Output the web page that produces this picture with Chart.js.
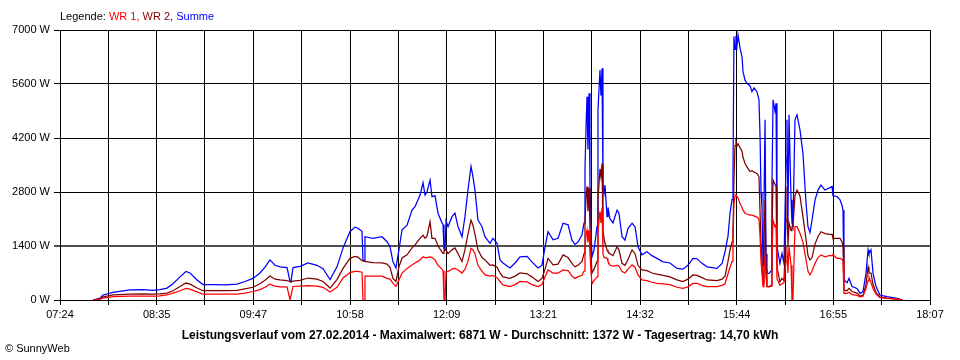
<!DOCTYPE html>
<html>
<head>
<meta charset="utf-8">
<script src="https://cdn.jsdelivr.net/npm/chart.js@4/dist/chart.umd.min.js"></script>
<style>
  html, body { margin: 0; padding: 0; background: #fff; }
  #wrap { position: relative; width: 960px; height: 360px; font-family: "Liberation Sans", Arial, sans-serif; font-size: 11px; }
  #c { position: absolute; left: 0; top: 0; }
  #legend { position: absolute; left: 60px; top: 10px; line-height: 13px; white-space: nowrap; color: #000; }
  #copy { position: absolute; left: 5px; top: 342px; line-height: 13px; white-space: nowrap; color: #000; }
</style>
</head>
<body>
<div id="wrap">
  <canvas id="c" width="960" height="360"></canvas>
  <div id="legend">Legende: <span style="color:#ff0000">WR 1,</span> <span style="color:#800000">WR 2,</span> <span style="color:#0000ff">Summe</span></div>
  <div id="copy">© SunnyWeb</div>
</div>
<script>
// time of day in minutes since midnight
const minutes = [
468.4,473.6,475.8,483.2,495.7,505.3,512.7,517.9,523.1,527.5,532.7,537.1,540.1,545.3,549.7,557.1,566.0,574.8,580.7,586.6,
591.8,595.5,599.2,602.9,606.6,611.8,614.0,614.7,616.2,621.4,627.3,633.9,638.4,643.6,648.7,653.2,658.3,662.0,664.2,667.2,
667.9,668.7,669.4,675.3,682.0,685.7,687.9,690.1,692.3,694.5,696.8,700.5,704.2,706.4,710.1,712.3,713.8,715.2,717.5,718.9,
721.2,723.4,726.3,727.1,727.8,728.6,729.3,730.8,733.7,735.9,738.2,741.1,743.3,745.5,747.8,749.2,750.7,752.9,755.9,758.1,
761.8,764.0,767.0,769.2,771.4,776.6,780.3,784.0,789.2,792.8,797.3,800.2,802.5,804.7,808.4,812.1,815.8,819.5,822.4,824.6,
826.8,829.8,831.3,832.0,832.8,833.5,834.2,835.0,835.7,836.5,837.2,838.7,840.9,841.6,843.1,843.8,844.6,845.3,846.1,846.8,
848.3,849.0,850.5,852.7,855.7,857.1,859.4,861.6,863.8,866.8,869.0,871.2,874.1,877.8,881.5,885.2,889.7,894.8,900.0,904.4,
908.1,911.8,914.8,918.5,922.2,929.6,933.3,935.5,937.7,939.2,940.7,941.4,942.1,942.9,943.6,944.4,945.1,946.6,948.1,948.8,
950.3,951.7,954.0,955.4,956.9,959.1,960.6,961.4,962.1,962.8,963.6,964.3,965.1,965.8,966.5,968.0,969.5,970.2,971.0,972.4,
973.2,973.9,976.1,977.6,979.1,980.6,981.3,982.0,982.8,984.3,985.0,985.7,987.2,988.7,990.9,993.1,995.4,996.8,998.3,999.8,
1002.0,1004.2,1006.4,1009.4,1012.4,1014.6,1015.3,1018.3,1020.5,1022.0,1022.7,1023.4,1025.7,1027.1,1029.4,1033.0,1035.3,1037.5,1039.7,1041.2,
1041.9,1043.4,1044.9,1047.1,1050.0,1055.2,1062.6,1067.0
];
const wr1 = [
0,20,50,90,100,100,100,110,130,180,240,300,280,210,150,150,150,150,180,220,
270,330,410,360,340,340,0,0,350,360,370,360,330,210,330,570,710,740,740,720,
0,0,620,620,620,560,540,430,350,520,700,820,910,960,1040,1120,1100,1100,1120,1100,
1040,900,800,760,0,0,730,740,800,820,780,700,800,1000,1340,1300,1200,900,750,650,
620,640,580,480,390,350,400,480,470,400,350,400,600,780,700,700,780,760,620,560,
600,640,750,1300,1700,1810,1500,1800,1200,700,420,500,600,1800,2300,2000,2400,1200,1100,1100,
1080,1000,900,880,900,880,740,700,800,910,850,650,520,500,460,430,420,400,330,300,
340,430,430,380,350,350,380,420,680,850,1000,1500,2500,2700,2720,2680,2650,2500,2400,2330,
2250,2230,2200,2200,2180,2150,2100,1640,1000,700,350,700,1200,600,350,340,360,1200,2070,1900,
1950,550,380,420,450,1000,1380,700,1380,900,0,0,1900,1900,1730,1500,1040,750,650,750,
950,1100,1170,1120,1150,1150,1170,1080,1080,1050,1000,170,170,200,140,120,80,100,300,500,
600,450,300,150,60,40,20,0
];
const wr2 = [
0,30,80,130,150,160,150,160,180,240,350,440,410,310,240,240,240,250,290,330,
420,510,620,540,520,500,480,470,490,510,570,540,480,310,530,820,1080,1130,1110,1020,
1020,1000,1000,970,960,930,850,560,480,860,1090,1170,1350,1430,1600,1680,1600,1650,2030,1600,
1600,1400,1250,1210,1250,1300,1300,1200,1300,1350,1200,1000,1300,1700,2070,1940,1700,1300,1100,1040,
900,910,850,700,600,560,620,700,680,600,480,560,800,1080,910,930,1170,1100,950,860,
900,1000,1200,2000,2700,2940,2300,2900,1800,1100,700,800,1000,2600,3400,3200,3540,1800,1600,1470,
1300,1250,1200,1150,1380,1300,950,900,1050,1300,1200,900,780,760,700,670,640,600,520,480,
540,650,640,580,520,500,540,620,1000,1300,1500,1800,3110,4000,4100,4000,4050,3950,3850,3700,
3540,3450,3330,3350,3320,3280,3200,2250,1500,1500,430,1700,2600,800,350,350,380,1800,3110,3000,
2940,850,470,560,500,2070,2940,1400,2000,1800,1900,1900,2700,2850,2700,2160,1560,1150,1040,1100,
1450,1640,1770,1720,1700,1700,1600,1600,1600,1500,1400,260,240,300,220,180,100,120,400,860,
700,700,400,200,80,50,25,0
];
const summe = [
0,50,130,200,260,270,250,270,310,420,600,740,700,520,400,400,390,410,480,560,
700,850,1040,900,860,840,480,470,840,870,960,900,810,530,860,1350,1770,1890,1860,1780,
1040,1020,1640,1600,1640,1510,1380,990,830,1300,1820,1940,2330,2420,2720,3040,2720,2800,3110,2680,
2700,2250,2000,1950,1300,1300,2050,1900,2160,2250,1900,1640,2160,2850,3460,3200,2850,2070,1900,1640,
1470,1600,1470,1040,960,830,960,1120,1130,990,830,900,1380,1770,1560,1600,1990,1950,1550,1440,
1500,1690,2000,3370,4500,5270,3900,5360,3000,1800,1120,1300,1900,4930,5960,5300,6010,3000,2770,2980,
2160,2400,2100,2000,2330,2250,1640,1550,1850,1990,1900,1380,1170,1250,1150,1080,990,960,820,800,
900,1080,1070,950,860,820,950,1250,1650,2250,2600,3240,6830,6500,6850,6600,6871,6530,6300,5920,
5700,5620,5550,5400,5500,5400,5190,4230,2800,2420,900,2500,4670,1200,700,690,750,3000,5190,4900,
5100,1400,950,1210,950,3630,4670,2000,4800,2600,2000,1900,4670,4800,4410,3800,2500,1900,1750,2070,
2590,2850,2980,2850,2900,2940,2700,2680,2600,2450,2330,520,450,560,350,300,170,220,690,1300,
1200,1300,690,350,130,90,45,0
];
const xTickLabels = ["07:24","08:35","09:47","10:58","12:09","13:21","14:32","15:44","16:55","18:07"];
const yTickValues = [0,1400,2800,4200,5600,7000];
const yTickLabels = ["0 W","1400 W","2800 W","4200 W","5600 W","7000 W"];
const xStart = 444;   // 07:24
const xEnd = 1087;    // 18:07
const titleText = "Leistungsverlauf vom 27.02.2014 - Maximalwert: 6871 W - Durchschnitt: 1372 W - Tagesertrag: 14,70 kWh";

const toPts = arr => arr.map((v, i) => ({x: minutes[i], y: v}));
const gridCount = (xTickLabels.length - 1) * 2;
const xGrid = [];
for (let i = 0; i <= gridCount; i++) xGrid.push(xStart + (xEnd - xStart) * i / gridCount);

Chart.defaults.font.family = '"Liberation Sans", Arial, sans-serif';
Chart.defaults.font.size = 11;
Chart.defaults.color = '#000';

new Chart(document.getElementById('c'), {
  type: 'line',
  data: {
    datasets: [
      {label: 'WR 1', data: toPts(wr1), borderColor: '#ff0000', borderWidth: 1.25, pointRadius: 0, tension: 0, fill: false, order: 0},
      {label: 'WR 2', data: toPts(wr2), borderColor: '#800000', borderWidth: 1.25, pointRadius: 0, tension: 0, fill: false, order: 1},
      {label: 'Summe', data: toPts(summe), borderColor: '#0000ff', borderWidth: 1.25, pointRadius: 0, tension: 0, fill: false, order: 2}
    ]
  },
  options: {
    responsive: false,
    animation: false,
    events: [],
    layout: {padding: {top: 30, right: 0, bottom: 0, left: 0}},
    plugins: {
      legend: {display: false},
      tooltip: {enabled: false},
      title: {
        display: true, position: 'bottom', text: titleText, color: '#000',
        font: {weight: 'bold', size: 12, family: '"Liberation Sans", Arial, sans-serif'},
        padding: {top: 6.4, bottom: 17.2}
      }
    },
    scales: {
      x: {
        type: 'linear', min: xStart, max: xEnd,
        afterBuildTicks: s => { s.ticks = xGrid.map(v => ({value: v})); },
        afterFit: s => { s.height = 22; },
        ticks: {autoSkip: false, maxRotation: 0, padding: 3,
          callback: (v, i) => (i % 2 === 0 ? xTickLabels[i / 2] : '')},
        grid: {color: '#000', lineWidth: 1, tickLength: 5, drawTicks: true},
        border: {color: '#000', width: 1}
      },
      y: {
        type: 'linear', position: 'left', min: 0, max: 7000,
        afterBuildTicks: s => { s.ticks = yTickValues.map(v => ({value: v})); },
        afterFit: s => { s.width = 60; },
        ticks: {padding: 4, callback: (v, i) => yTickLabels[i]},
        grid: {
          color: c => (c.tick && c.tick.value === 1400 ? '#505050' : '#000'),
          lineWidth: c => (c.tick && c.tick.value === 1400 ? 2 : 1),
          tickLength: 6, drawTicks: true
        },
        border: {color: '#000', width: 1}
      },
      yR: {
        type: 'linear', position: 'right', display: true,
        afterFit: s => { s.width = 30; },
        ticks: {display: false}, grid: {display: false}, border: {display: false}
      }
    }
  }
});
</script>
</body>
</html>
